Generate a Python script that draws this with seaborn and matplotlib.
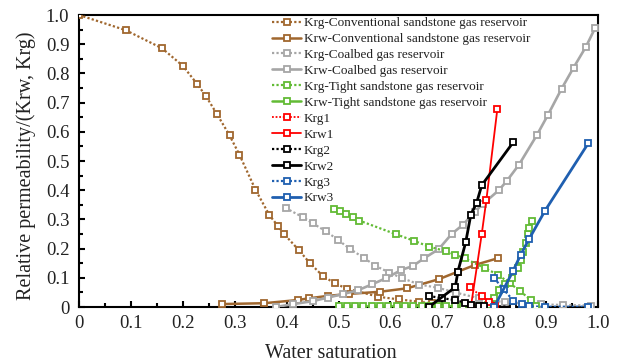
import matplotlib
matplotlib.use("Agg")
import matplotlib.pyplot as plt
import seaborn as sns
import pandas as pd
from matplotlib.ticker import MultipleLocator, FuncFormatter

# ---------------- data ----------------
krg_conv_x = [0.0, 0.09, 0.16, 0.20, 0.228, 0.245, 0.266, 0.29, 0.309, 0.34, 0.367, 0.384, 0.395,
              0.423, 0.445, 0.47, 0.493, 0.516, 0.577, 0.616, 0.655, 0.68]
krg_conv_y = [1.0, 0.948, 0.886, 0.826, 0.763, 0.721, 0.660, 0.588, 0.522, 0.402, 0.314, 0.276, 0.250,
              0.196, 0.150, 0.106, 0.081, 0.063, 0.035, 0.026, 0.018, 0.012]

krw_conv_x = [0.275, 0.357, 0.422, 0.444, 0.479, 0.521, 0.579, 0.632, 0.693, 0.730, 0.763, 0.807]
krw_conv_y = [0.010, 0.013, 0.024, 0.030, 0.038, 0.045, 0.052, 0.064, 0.095, 0.121, 0.144, 0.167]

krg_coal_x = [0.398, 0.431, 0.450, 0.476, 0.499, 0.522, 0.550, 0.571, 0.598, 0.622, 0.656, 0.691,
              0.727, 0.77, 0.82, 0.89, 0.932, 0.987]
krg_coal_y = [0.339, 0.308, 0.287, 0.259, 0.230, 0.199, 0.167, 0.141, 0.118, 0.099, 0.077, 0.066,
              0.049, 0.030, 0.016, 0.009, 0.007, 0.005]

krw_coal_x = [0.379, 0.413, 0.450, 0.479, 0.508, 0.537, 0.565, 0.592, 0.621, 0.643, 0.665, 0.693,
              0.718, 0.740, 0.763, 0.779, 0.809, 0.824, 0.848, 0.882, 0.903, 0.930, 0.953, 0.977, 0.994]
krw_coal_y = [0.000, 0.010, 0.020, 0.032, 0.044, 0.057, 0.078, 0.099, 0.127, 0.140, 0.167, 0.198,
              0.250, 0.282, 0.327, 0.354, 0.400, 0.431, 0.488, 0.588, 0.656, 0.748, 0.820, 0.892, 0.954]

krg_tight_x = [0.492, 0.503, 0.515, 0.527, 0.540, 0.611, 0.645, 0.674, 0.707, 0.725, 0.743, 0.782,
               0.808, 0.830, 0.850, 0.870, 0.880]
krg_tight_y = [0.336, 0.328, 0.318, 0.308, 0.296, 0.249, 0.227, 0.207, 0.191, 0.179, 0.167, 0.133,
               0.110, 0.081, 0.055, 0.024, 0.004]

krw_tight_x = [0.500, 0.516, 0.532, 0.548, 0.564, 0.580, 0.596, 0.612, 0.628, 0.644, 0.660, 0.676,
               0.692, 0.708, 0.724, 0.740, 0.756, 0.772, 0.788, 0.800, 0.810, 0.820, 0.835, 0.845,
               0.851, 0.856, 0.861, 0.865, 0.868, 0.872]
krw_tight_y = [0.002, 0.002, 0.002, 0.002, 0.002, 0.002, 0.002, 0.002, 0.002, 0.002, 0.002, 0.002,
               0.002, 0.002, 0.002, 0.002, 0.003, 0.004, 0.008, 0.030, 0.058, 0.080, 0.100, 0.132,
               0.160, 0.190, 0.220, 0.250, 0.270, 0.295]

krg1_x = [0.753, 0.776, 0.790, 0.802]
krg1_y = [0.068, 0.036, 0.018, 0.003]
krw1_x = [0.755, 0.776, 0.785, 0.806]
krw1_y = [0.000, 0.250, 0.368, 0.677]

krg2_x = [0.674, 0.700, 0.725, 0.743, 0.756, 0.770, 0.780, 0.837]
krg2_y = [0.038, 0.030, 0.024, 0.015, 0.007, 0.005, 0.005, 0.000]
krw2_x = [0.674, 0.725, 0.730, 0.745, 0.755, 0.766, 0.776, 0.837]
krw2_y = [0.000, 0.068, 0.121, 0.221, 0.316, 0.356, 0.417, 0.565]

krg3_x = [0.800, 0.818, 0.837, 0.853, 0.867, 0.898, 0.981]
krg3_y = [0.099, 0.060, 0.022, 0.010, 0.002, 0.001, 0.001]
krw3_x = [0.800, 0.836, 0.851, 0.867, 0.898, 0.981]
krw3_y = [0.000, 0.122, 0.179, 0.232, 0.330, 0.560]

labels = ["Krg-Conventional sandstone gas reservoir", "Krw-Conventional sandstone gas reservoir",
          "Krg-Coalbed gas reservoir", "Krw-Coalbed gas reservoir",
          "Krg-Tight sandstone gas reservoir", "Krw-Tight sandstone gas reservoir",
          "Krg1", "Krw1", "Krg2", "Krw2", "Krg3", "Krw3"]
tick_values = [0.0, 0.1, 0.2, 0.3, 0.4, 0.5, 0.6, 0.7, 0.8, 0.9, 1.0]

series = [
    (krg_conv_x, krg_conv_y), (krw_conv_x, krw_conv_y),
    (krg_coal_x, krg_coal_y), (krw_coal_x, krw_coal_y),
    (krg_tight_x, krg_tight_y), (krw_tight_x, krw_tight_y),
    (krg1_x, krg1_y), (krw1_x, krw1_y),
    (krg2_x, krg2_y), (krw2_x, krw2_y),
    (krg3_x, krg3_y), (krw3_x, krw3_y),
]

colors = ["#A0672E", "#A0672E", "#A6A6A6", "#A6A6A6", "#62BB35", "#62BB35",
          "#FF0000", "#FF0000", "#000000", "#000000", "#1F5FB0", "#1F5FB0"]
widths = [1.6, 1.8, 1.6, 1.9, 1.6, 1.8, 1.3, 1.3, 1.6, 2.0, 1.6, 2.0]

# ---------------- plot ----------------
sns.set_theme(style="ticks")
plt.rcParams["font.family"] = ["Liberation Serif", "DejaVu Serif"]

fig = plt.figure(figsize=(6.22, 3.63), dpi=100)
ax = fig.add_axes([79 / 622, 1 - 307 / 363, (598 - 79) / 622, (307 - 15) / 363])

for i, ((xs, ys), lab, col, lw) in enumerate(zip(series, labels, colors, widths)):
    df = pd.DataFrame({"x": xs, "y": ys})
    is_krg = (i % 2 == 0)
    sns.lineplot(data=df, x="x", y="y", ax=ax, color=col, label=lab,
                 estimator=None, sort=False,
                 linestyle=(0, (1, 1)) if is_krg else "-",
                 linewidth=lw,
                 marker="s", markersize=5, markerfacecolor="white",
                 markeredgecolor=col, markeredgewidth=1.3, zorder=3 + i * 0.01)

ax.set_xlim(0, 1.0)
ax.set_ylim(0, 1.0)
ax.set_xticks(tick_values)
ax.set_yticks(tick_values)
ax.xaxis.set_minor_locator(MultipleLocator(0.05))
ax.yaxis.set_minor_locator(MultipleLocator(0.05))
fmt = FuncFormatter(lambda v, p: "0" if abs(v) < 1e-9 else f"{v:.1f}")
ax.xaxis.set_major_formatter(fmt)
ax.yaxis.set_major_formatter(fmt)
ax.tick_params(which="both", direction="in", width=1.5, colors="black", labelsize=13.5,
               top=False, right=False, labelcolor="#222222")
ax.tick_params(which="major", length=4)
ax.tick_params(which="minor", length=3)
ax.tick_params(axis="y", pad=7)
ax.tick_params(axis="x", pad=6)
for s in ax.spines.values():
    s.set_visible(True)
    s.set_color("black")
    s.set_linewidth(1.5)

ax.set_xlabel("Water saturation", fontsize=14.5, color="#222222")
ax.set_ylabel("Relative permeability/(Krw, Krg)", fontsize=14.5, color="#222222")
ax.xaxis.set_label_coords(0.4855, -0.125)
ax.yaxis.set_label_coords(-0.082, 0.483)

leg = ax.legend(loc="upper left", bbox_to_anchor=(272 / 622, 1 - 17 / 363),
                bbox_transform=fig.transFigure, frameon=False, fontsize=9.5,
                handlelength=2.2, handletextpad=0.2, labelspacing=0.28,
                borderpad=0, borderaxespad=0)
for t in leg.get_texts():
    t.set_color("#222222")

fig.savefig("out.png", dpi=100)
